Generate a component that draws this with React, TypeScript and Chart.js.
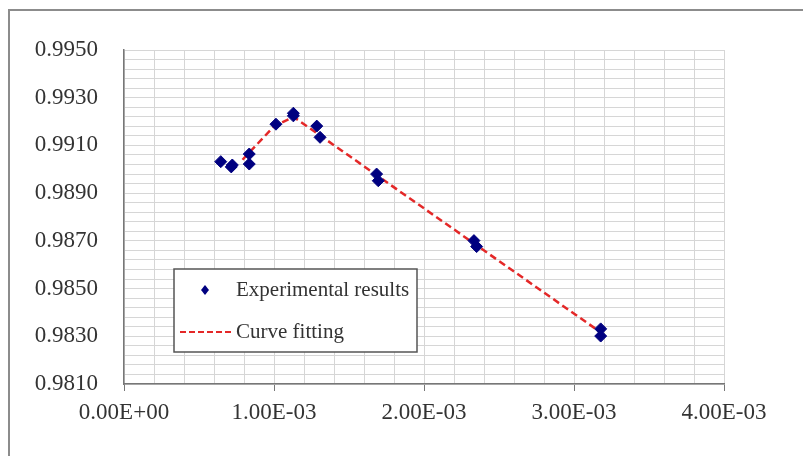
import React, { useEffect, useRef } from "react";
import { Chart, registerables } from "chart.js";

Chart.register(...registerables);

// Experimental results (x: strain-like quantity, y: ratio)
const expX = [0.000645, 0.000715, 0.000722, 0.000835, 0.000835, 0.001013, 0.001129, 0.001129, 0.001285, 0.001307, 0.001684, 0.001695, 0.002333, 0.002351, 0.003178, 0.003178];
const expY = [0.99032, 0.99010, 0.99018, 0.99064, 0.99022, 0.99189, 0.99235, 0.99224, 0.99181, 0.99134, 0.98980, 0.98952, 0.98701, 0.98676, 0.98331, 0.98301];

// Curve fitting
const fitX = [0.00079, 0.00100, 0.00113, 0.00317];
const fitY = [0.9904, 0.9918, 0.9922, 0.9832];

// Axis settings
const xMin = 0;
const xMax = 0.004;
const xStep = 0.0002;
const yMin = 0.981;
const yMax = 0.995;
const yStep = 0.0004;

const seriesNames = ["Experimental results", "Curve fitting"];

const FONT = "'Liberation Serif', 'Times New Roman', serif";
const POINT_COLOR = "#000080";
const LINE_COLOR = "rgb(228,40,40)";

function fmtX(v: number): string {
  const s = v.toExponential(2);
  const [m, e] = s.split("e");
  const n = parseInt(e, 10);
  const sign = n < 0 ? "-" : "+";
  return `${m.toUpperCase()}E${sign}${String(Math.abs(n)).padStart(2, "0")}`;
}

const framePlugin = {
  id: "outerFrame",
  beforeDraw(chart: any) {
    const { ctx, width, height } = chart;
    ctx.save();
    ctx.strokeStyle = "#8c8c8c";
    ctx.lineWidth = 2;
    ctx.beginPath();
    ctx.moveTo(9, height);
    ctx.lineTo(9, 10);
    ctx.lineTo(width, 10);
    ctx.stroke();
    ctx.restore();
  },
};

const legendPlugin = {
  id: "boxLegend",
  afterDraw(chart: any) {
    const { ctx, chartArea } = chart;
    const x0 = chartArea.left + 50;
    const y0 = chartArea.top + 219;
    const w = 243;
    const h = 83;
    ctx.save();
    ctx.fillStyle = "#ffffff";
    ctx.fillRect(x0, y0, w, h);
    ctx.strokeStyle = "#555555";
    ctx.lineWidth = 1.5;
    ctx.strokeRect(x0, y0, w, h);

    // marker
    const mx = x0 + 31;
    const my = y0 + 21;
    ctx.fillStyle = POINT_COLOR;
    ctx.beginPath();
    ctx.moveTo(mx, my - 5);
    ctx.lineTo(mx + 4, my);
    ctx.lineTo(mx, my + 5);
    ctx.lineTo(mx - 4, my);
    ctx.closePath();
    ctx.fill();

    // dashed line
    const ly = y0 + 63;
    ctx.strokeStyle = LINE_COLOR;
    ctx.lineWidth = 2;
    ctx.setLineDash([6, 3]);
    ctx.beginPath();
    ctx.moveTo(x0 + 6, ly);
    ctx.lineTo(x0 + 60, ly);
    ctx.stroke();
    ctx.setLineDash([]);

    ctx.fillStyle = "#333333";
    ctx.font = `21px ${FONT}`;
    ctx.textAlign = "left";
    ctx.textBaseline = "middle";
    ctx.fillText(seriesNames[0], x0 + 62, my);
    ctx.fillText(seriesNames[1], x0 + 62, ly);
    ctx.restore();
  },
};

export default function App() {
  const ref = useRef<HTMLCanvasElement | null>(null);

  useEffect(() => {
    if (!ref.current) return;
    const expData = expX.map((x, i) => ({ x, y: expY[i] }));
    const fitData = fitX.map((x, i) => ({ x, y: fitY[i] }));

    const chart = new Chart(ref.current, {
      type: "scatter",
      data: {
        datasets: [
          {
            label: seriesNames[0],
            data: expData,
            pointStyle: "rectRot",
            pointRadius: 6,
            backgroundColor: POINT_COLOR,
            borderColor: POINT_COLOR,
            borderWidth: 1,
            showLine: false,
          },
          {
            label: seriesNames[1],
            data: fitData,
            showLine: true,
            pointRadius: 0,
            borderColor: LINE_COLOR,
            borderWidth: 2.5,
            borderDash: [7, 4],
            tension: 0,
          },
        ],
      },
      options: {
        responsive: false,
        animation: false,
        layout: { padding: { top: 50, right: 79, left: 0, bottom: 0 } },
        plugins: {
          legend: { display: false },
          tooltip: { enabled: false },
        },
        scales: {
          x: {
            type: "linear",
            min: xMin,
            max: xMax,
            afterFit: (s: any) => {
              s.height = 72;
            },
            ticks: {
              stepSize: xStep,
              autoSkip: false,
              maxRotation: 0,
              padding: 8,
              color: "#333333",
              font: { family: FONT, size: 23 },
              callback: (v: any, i: number) => (i % 5 === 0 ? fmtX(Number(v)) : ""),
            },
            grid: {
              color: "#d6d6d6",
              lineWidth: 1,
              drawTicks: true,
              tickLength: 7,
              tickColor: (c: any) => (c.index % 5 === 0 ? "#777777" : "rgba(0,0,0,0)"),
            },
            border: { color: "#777777", width: 1.5 },
          },
          y: {
            type: "linear",
            min: yMin,
            max: yMax,
            afterFit: (s: any) => {
              s.width = 124;
            },
            ticks: {
              stepSize: yStep,
              autoSkip: false,
              padding: 26,
              color: "#333333",
              font: { family: FONT, size: 23 },
              callback: (v: any, i: number) => (i % 5 === 0 ? Number(v).toFixed(4) : ""),
            },
            grid: {
              color: "#d6d6d6",
              lineWidth: 1,
              drawTicks: false,
            },
            border: { color: "#777777", width: 1.5 },
          },
        },
      },
      plugins: [framePlugin, legendPlugin],
    });

    return () => chart.destroy();
  }, []);

  return (
    <div style={{ position: "absolute", left: 0, top: 0, width: 803, height: 456, background: "#fff" }}>
      <canvas ref={ref} width={803} height={456} style={{ display: "block", width: 803, height: 456 }} />
    </div>
  );
}
